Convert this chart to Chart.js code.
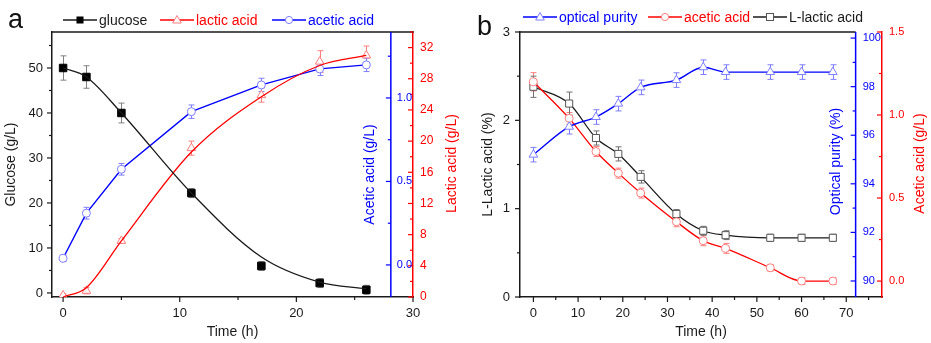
<!DOCTYPE html>
<html>
<head>
<meta charset="utf-8">
<script src="https://cdn.jsdelivr.net/npm/chart.js@4.4.1/dist/chart.umd.min.js"></script>
<style>
  body { margin: 0; background: #fff; font-family: "Liberation Sans", Arial, sans-serif; }
  #wrap { position: relative; width: 931px; height: 343px; overflow: hidden; background: #fff; }
  canvas { position: absolute; top: 0; }
  .tag { position: absolute; font-size: 27px; line-height: 27px; color: #111; }
  .leg { position: absolute; font-size: 14px; line-height: 16px; white-space: nowrap; }
  .leg svg { position: absolute; left: 0; top: 2px; }
</style>
</head>
<body>
<div id="wrap">
  <canvas id="cA" width="470" height="343" style="left:0"></canvas>
  <canvas id="cB" width="461" height="343" style="left:470px"></canvas>
  <div class="tag" style="left:8px;top:6px">a</div>
  <div class="tag" style="left:477px;top:13px">b</div>
</div>
<script>
/* fermentation panels: a = batch (glucose / lactic / acetic), b = purification */

const RED = "#ff0000", RED_LT = "#ff7d7d";
const BLUE = "#0000ff", BLUE_LT = "#7d7dff";
const INK = "#1a1a1a";
const FONT = "'Liberation Sans', Arial, sans-serif";

// panel a
const timeA      = [0, 2, 5, 11, 17, 22, 26];
const glucose    = [50, 48, 40, 22.2, 6.0, 2.2, 0.7];
const glucoseErr = [2.7, 2.5, 2.2, 1.0, 1.0, 1.0, 1.0];
const glucoseFit = [50, 48, 40, 22.2, 8.0, 2.4, 0.9];
const lacticA    = [0.2, 0.8, 7.2, 19.1, 25.9, 30.2, 31.0];
const lacticAErr = [0.2, 0.4, 0.3, 0.9, 0.9, 1.4, 1.2];
const lacticFit  = [0.0, 1.2, 7.2, 18.6, 25.7, 29.7, 31.0];
const aceticA    = [0.04, 0.31, 0.573, 0.918, 1.078, 1.174, 1.198];
const aceticAErr = [0.02, 0.035, 0.035, 0.04, 0.04, 0.04, 0.04];

const timeTicksA    = [0, 10, 20, 30];
const glucoseTicks  = [0, 10, 20, 30, 40, 50];
const lacticTicks   = [0, 4, 8, 12, 16, 20, 24, 28, 32];
const aceticATicks  = [0, 0.5, 1.0];

// panel b
const timeB      = [0, 8, 14, 19, 24, 32, 38, 43, 53, 60, 67];
const purity     = [95.2, 96.35, 96.75, 97.3, 97.97, 98.27, 98.8, 98.6, 98.6, 98.6, 98.6];
const purityErr  = [0.3, 0.3, 0.3, 0.3, 0.3, 0.3, 0.3, 0.3, 0.3, 0.3, 0.3];
const aceticB    = [1.2, 0.98, 0.78, 0.65, 0.53, 0.357, 0.243, 0.197, 0.08, 0.0, 0.0];
const aceticBErr = [0.055, 0.035, 0.03, 0.03, 0.03, 0.03, 0.03, 0.03, 0.02, 0.02, 0.02];
const lLactic    = [2.38, 2.19, 1.80, 1.62, 1.36, 0.94, 0.75, 0.70, 0.67, 0.67, 0.67];
const lLacticErr = [0.12, 0.13, 0.08, 0.08, 0.07, 0.05, 0.05, 0.05, 0.04, 0.04, 0.04];

const timeTicksB   = [0, 10, 20, 30, 40, 50, 60, 70];
const lLacticTicks = [0, 1, 2, 3];
const purityTicks  = [90, 92, 94, 96, 98, 100];
const aceticBTicks = [0, 0.5, 1.0, 1.5];

Chart.defaults.font.family = FONT;
Chart.defaults.color = INK;

function pt(xs, ys) { return xs.map((x, i) => ({ x, y: ys[i] })); }

// linear axis: minor step for tick marks, labels only where listed
function lin(o) {
  return {
    type: "linear", position: o.position, min: o.min, max: o.max,
    display: o.display !== false,
    ticks: {
      stepSize: o.step, includeBounds: false, autoSkip: false, maxRotation: 0,
      color: o.color, padding: o.pad || 0, font: { size: o.size || 12 },
      callback: v => {
        const hit = o.labels.find(l => Math.abs(l - v) < 1e-6);
        return hit === undefined ? "" : (o.fmt ? o.fmt(hit) : String(hit));
      }
    },
    grid: { display: false, drawTicks: false },
    border: { display: o.display !== false, color: o.color, width: 1.5 },
    title: { display: !!o.title, text: o.title, color: o.color, font: { size: 14 }, padding: o.tpad || 0 },
    afterFit: s => {
      if (o.w === undefined) return;
      if (s.isHorizontal()) s.height = o.w; else s.width = o.w;
    }
  };
}

function axisX(chart, at) {
  const ca = chart.chartArea;
  if (at === "left") return ca.left;
  if (at === "right") return ca.right;
  return chart.scales.x.getPixelForValue(at);
}

function vText(ctx, text, x, y, color) {
  ctx.save();
  ctx.fillStyle = color;
  ctx.font = "14px " + FONT;
  ctx.textAlign = "center";
  ctx.textBaseline = "middle";
  ctx.translate(x, y);
  ctx.rotate(-Math.PI / 2);
  ctx.fillText(text, 0, 0);
  ctx.restore();
}

// error bars, tick marks, the inner (offset) axis, right-hand title and the top frame line
function deco(cfg) {
  return {
    id: "deco",
    beforeDatasetsDraw(chart) {
      const ctx = chart.ctx;
      const sx = chart.scales.x;
      cfg.errors.forEach(e => {
        const sy = chart.scales[e.axis];
        ctx.save();
        ctx.strokeStyle = e.color;
        ctx.lineWidth = 1;
        e.x.forEach((t, i) => {
          const px = Math.round(sx.getPixelForValue(t)) + 0.5;
          const hi = sy.getPixelForValue(e.y[i] + e.err[i]);
          const lo = sy.getPixelForValue(e.y[i] - e.err[i]);
          ctx.beginPath();
          ctx.moveTo(px, hi); ctx.lineTo(px, lo);
          ctx.moveTo(px - 3, hi); ctx.lineTo(px + 3, hi);
          ctx.moveTo(px - 3, lo); ctx.lineTo(px + 3, lo);
          ctx.stroke();
        });
        ctx.restore();
      });
    },
    afterDraw(chart) {
      const { ctx, chartArea: ca } = chart;
      const b = cfg.inner;
      const ax = axisX(chart, b.at);
      const mid = (ca.top + ca.bottom) / 2;
      ctx.save();

      ctx.lineWidth = 1.5;
      ctx.strokeStyle = INK;
      ctx.beginPath();
      ctx.moveTo(ca.left - 0.75, ca.top);
      ctx.lineTo(cfg.topEnd == null ? ca.right + 0.75 : axisX(chart, cfg.topEnd), ca.top);
      ctx.stroke();

      ctx.strokeStyle = b.color;
      ctx.beginPath();
      ctx.moveTo(ax, ca.top); ctx.lineTo(ax, ca.bottom);
      ctx.stroke();

      ctx.lineWidth = 1.2;
      cfg.ticks.forEach(tk => {
        const s = chart.scales[tk.id];
        ctx.strokeStyle = tk.color;
        s.ticks.forEach(t => {
          const len = t.label !== "" ? 5 : 3;
          const p = s.getPixelForValue(t.value);
          ctx.beginPath();
          if (tk.id === "x") {
            ctx.moveTo(p, ca.bottom); ctx.lineTo(p, ca.bottom + len);
          } else {
            const x0 = axisX(chart, tk.at);
            ctx.moveTo(x0, p); ctx.lineTo(x0 - len, p);
          }
          ctx.stroke();
        });
      });

      const s = chart.scales[b.id];
      ctx.fillStyle = b.color;
      ctx.font = b.size + "px " + FONT;
      ctx.textAlign = "left";
      ctx.textBaseline = "middle";
      s.ticks.forEach(t => {
        if (t.label !== "") ctx.fillText(t.label, ax + b.pad, s.getPixelForValue(t.value));
      });
      ctx.restore();

      vText(ctx, b.title, ax + b.dx, mid + b.dy, b.color);
      const r = cfg.rightTitle;
      vText(ctx, r.text, r.x, mid + r.dy, r.color);
    }
  };
}

function baseOptions(scales) {
  return {
    responsive: false, animation: false, devicePixelRatio: 1,
    layout: { padding: { top: 32, left: 0, right: 0, bottom: 0 } },
    plugins: { legend: { display: false }, tooltip: { enabled: false } },
    scales
  };
}

// ---- panel a
new Chart(document.getElementById("cA"), {
  type: "line",
  data: {
    datasets: [
      { data: pt(timeA, glucoseFit), yAxisID: "yG", borderColor: INK, borderWidth: 1.3,
        pointRadius: 0, cubicInterpolationMode: "monotone" },
      { data: pt(timeA, glucose), yAxisID: "yG", showLine: false, pointStyle: "rect", pointRadius: 5.3,
        pointBackgroundColor: "#000", pointBorderColor: "#000" },
      { data: pt(timeA, lacticFit), yAxisID: "yL", borderColor: RED, borderWidth: 1.3,
        pointRadius: 0, cubicInterpolationMode: "monotone" },
      { data: pt(timeA, lacticA), yAxisID: "yL", showLine: false, pointStyle: "triangle", pointRadius: 5,
        pointBackgroundColor: "#fff", pointBorderColor: RED_LT, pointBorderWidth: 1 },
      { data: pt(timeA, aceticA), yAxisID: "yA", borderColor: BLUE, borderWidth: 1.4, tension: 0,
        pointStyle: "circle", pointRadius: 4, pointBackgroundColor: "#fff",
        pointBorderColor: BLUE_LT, pointBorderWidth: 1 }
    ]
  },
  options: baseOptions({
    x:  lin({ position: "bottom", min: -0.95, max: 30, step: 5, labels: timeTicksA, color: INK,
              pad: 9, size: 13, w: 46, title: "Time (h)", tpad: { top: 0, bottom: 2 } }),
    yG: lin({ position: "left", min: -0.9, max: 58, step: 5, labels: glucoseTicks, color: INK,
              pad: 9, size: 13, w: 52, title: "Glucose (g/L)", tpad: { top: 3, bottom: 0 } }),
    yL: lin({ position: "right", min: 0, max: 34, step: 2, labels: lacticTicks, color: RED,
              pad: 7, size: 12, w: 57 }),
    yA: lin({ position: "right", min: -0.192, max: 1.395, step: 0.25, labels: aceticATicks, color: BLUE,
              display: false, fmt: v => v.toFixed(1) })
  }),
  plugins: [deco({
    errors: [
      { axis: "yG", x: timeA, y: glucose, err: glucoseErr, color: "#808080" },
      { axis: "yL", x: timeA, y: lacticA, err: lacticAErr, color: RED_LT },
      { axis: "yA", x: timeA, y: aceticA, err: aceticAErr, color: BLUE_LT }
    ],
    ticks: [
      { id: "x", color: INK },
      { id: "yG", at: "left", color: INK },
      { id: "yL", at: "right", color: RED },
      { id: "yA", at: 28.1, color: BLUE }
    ],
    inner: { id: "yA", at: 28.1, color: BLUE, title: "Acetic acid (g/L)", dx: -21, dy: 10, size: 11, pad: 6 },
    rightTitle: { text: "Lactic acid (g/L)", color: RED, x: 452, dy: -1 },
    topEnd: null
  })]
});

// ---- panel b
new Chart(document.getElementById("cB"), {
  type: "line",
  data: {
    datasets: [
      { data: pt(timeB, purity), yAxisID: "yO", borderColor: BLUE, borderWidth: 1.4,
        cubicInterpolationMode: "monotone", pointStyle: "triangle", pointRadius: 5,
        pointBackgroundColor: "#fff", pointBorderColor: BLUE_LT, pointBorderWidth: 1 },
      { data: pt(timeB, aceticB), yAxisID: "yR", borderColor: RED, borderWidth: 1.3,
        cubicInterpolationMode: "monotone", pointStyle: "circle", pointRadius: 4,
        pointBackgroundColor: "#fff", pointBorderColor: RED_LT, pointBorderWidth: 1 },
      { data: pt(timeB, lLactic), yAxisID: "yLL", borderColor: INK, borderWidth: 1.3,
        cubicInterpolationMode: "monotone", pointStyle: "rect", pointRadius: 5,
        pointBackgroundColor: "#fff", pointBorderColor: "#555", pointBorderWidth: 1 }
    ]
  },
  options: baseOptions({
    x:   lin({ position: "bottom", min: -3, max: 78, step: 5, labels: timeTicksB, color: INK,
               pad: 9, size: 13, w: 46, title: "Time (h)", tpad: { top: 0, bottom: 2 } }),
    yLL: lin({ position: "left", min: 0, max: 3, step: 0.5, labels: lLacticTicks, color: INK,
               pad: 10, size: 13, w: 50, title: "L-Lactic acid (%)", tpad: { top: 10, bottom: 0 } }),
    yR:  lin({ position: "right", min: -0.096, max: 1.5, step: 0.25, labels: aceticBTicks, color: RED,
               pad: 7, size: 11, w: 49, fmt: v => v.toFixed(1) }),
    yO:  lin({ position: "right", min: 89.34, max: 100.25, step: 1, labels: purityTicks, color: BLUE,
               display: false })
  }),
  plugins: [deco({
    errors: [
      { axis: "yO", x: timeB, y: purity, err: purityErr, color: BLUE_LT },
      { axis: "yR", x: timeB, y: aceticB, err: aceticBErr, color: RED_LT },
      { axis: "yLL", x: timeB, y: lLactic, err: lLacticErr, color: "#707070" }
    ],
    ticks: [
      { id: "x", color: INK },
      { id: "yLL", at: "left", color: INK },
      { id: "yR", at: "right", color: RED },
      { id: "yO", at: 72.1, color: BLUE }
    ],
    inner: { id: "yO", at: 72.1, color: BLUE, title: "Optical purity (%)", dx: -19, dy: -3, size: 11, pad: 7 },
    rightTitle: { text: "Acetic acid (g/L)", color: RED, x: 450, dy: -1 },
    topEnd: 72.1
  })]
});

// ---- legends (line + marker + text), as in the figure header
const legendItems = [
  { x: 63,  y: 20, text: "glucose",        color: INK,  line: INK,  mark: "rectFill", mc: "#000" },
  { x: 160, y: 20, text: "lactic acid",    color: RED,  line: RED,  mark: "tri",      mc: RED_LT },
  { x: 272, y: 20, text: "acetic acid",    color: BLUE, line: BLUE, mark: "circ",     mc: BLUE_LT },
  { x: 523, y: 17, text: "optical purity", color: BLUE, line: BLUE, mark: "tri",      mc: BLUE_LT },
  { x: 648, y: 17, text: "acetic acid",    color: RED,  line: RED,  mark: "circ",     mc: RED_LT },
  { x: 753, y: 17, text: "L-lactic acid",  color: INK,  line: INK,  mark: "rect",     mc: "#555" }
];

function markerSvg(kind, c) {
  if (kind === "rectFill") return `<rect x="13.5" y="2.5" width="7" height="7" fill="${c}"/>`;
  if (kind === "rect") return `<rect x="13.5" y="2.5" width="7" height="7" fill="#fff" stroke="${c}"/>`;
  if (kind === "tri") return `<polygon points="17,1.5 21.3,9 12.7,9" fill="#fff" stroke="${c}"/>`;
  return `<circle cx="17" cy="6" r="3.6" fill="#fff" stroke="${c}"/>`;
}

const wrap = document.getElementById("wrap");
legendItems.forEach(it => {
  const d = document.createElement("div");
  d.className = "leg";
  d.style.left = it.x + "px";
  d.style.top = (it.y - 8) + "px";
  d.style.color = it.color;
  d.style.paddingLeft = "36px";
  d.innerHTML = `<svg width="34" height="12"><line x1="0" y1="6" x2="34" y2="6" stroke="${it.line}" stroke-width="1.4"/>` +
    markerSvg(it.mark, it.mc) + `</svg>` + it.text;
  wrap.appendChild(d);
});
</script>
</body>
</html>
